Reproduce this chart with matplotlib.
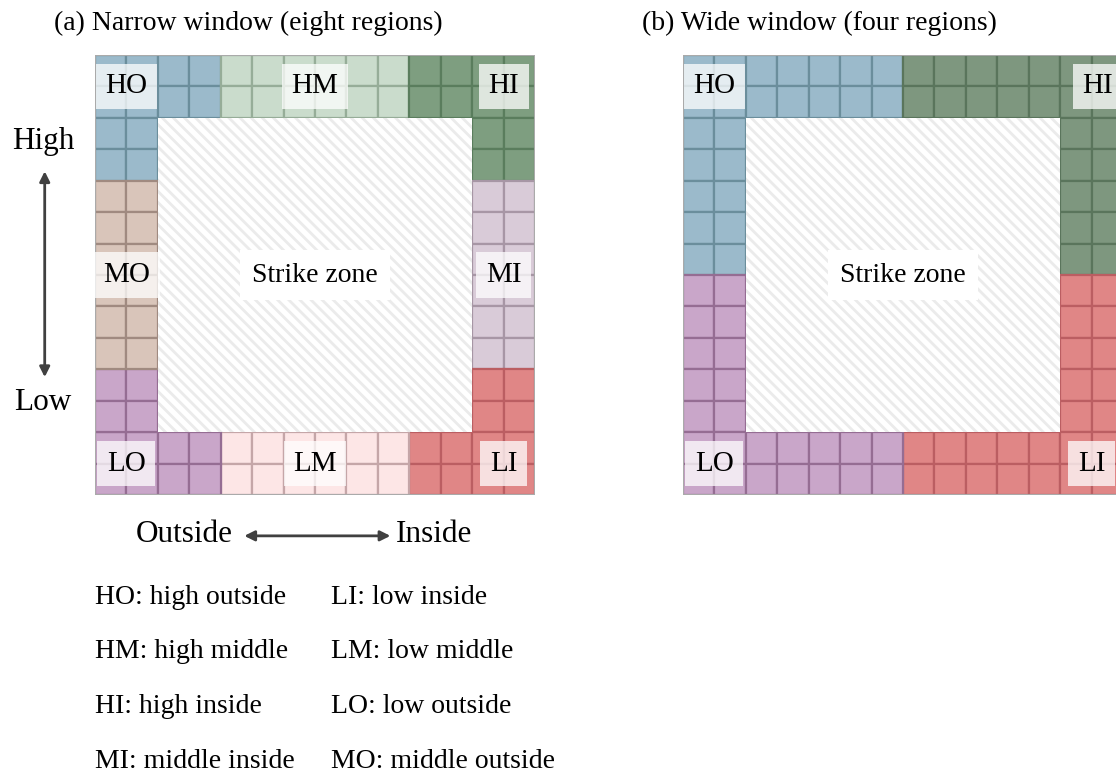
import matplotlib.pyplot as plt
from matplotlib.patches import Rectangle

plt.rcParams['font.family'] = ['Liberation Serif', 'DejaVu Serif']
plt.rcParams['hatch.linewidth'] = 2.0

# region -> blocks of cells (col0, row0, ncols, nrows) on a 14 x 14 grid
narrow_names = ['HO', 'HM', 'HI', 'MI', 'LI', 'LM', 'LO', 'MO']
narrow_fill = ['#9bbacb', '#cadccc', '#7e9e80', '#d9cbd8',
               '#e08686', '#fde6e6', '#c9a6c9', '#d9c5ba']
narrow_line = ['#6b8e9c', '#96ad98', '#5a7d5d', '#a796a5',
               '#bb5e62', '#c5a6a8', '#956d93', '#a08a80']
narrow_blocks = [
    [(0, 0, 4, 2), (0, 2, 2, 2)],
    [(4, 0, 6, 2)],
    [(10, 0, 4, 2), (12, 2, 2, 2)],
    [(12, 4, 2, 6)],
    [(12, 10, 2, 2), (10, 12, 4, 2)],
    [(4, 12, 6, 2)],
    [(0, 12, 4, 2), (0, 10, 2, 2)],
    [(0, 4, 2, 6)],
]
narrow_label_xy = [(1, 1), (7, 1), (13, 1), (13, 7), (13, 13), (7, 13), (1, 13), (1, 7)]

wide_names = ['HO', 'HI', 'LI', 'LO']
wide_fill = ['#9bbacb', '#7e977f', '#e08686', '#c9a6c9']
wide_line = ['#6b8e9c', '#5a755c', '#bb5e62', '#956d93']
wide_blocks = [
    [(0, 0, 7, 2), (0, 2, 2, 5)],
    [(7, 0, 7, 2), (12, 2, 2, 5)],
    [(12, 7, 2, 5), (7, 12, 7, 2)],
    [(0, 7, 2, 5), (0, 12, 7, 2)],
]
wide_label_xy = [(1, 1), (13.2, 1), (13, 13), (1, 13)]

legend_left = ['HO: high outside', 'HM: high middle', 'HI: high inside', 'MI: middle inside']
legend_right = ['LI: low inside', 'LM: low middle', 'LO: low outside', 'MO: middle outside']

W, H = 1116, 775
fig = plt.figure(figsize=(W / 100, H / 100), dpi=100)


def make_ax(left_px):
    ax = fig.add_axes([left_px / W, (H - 495) / H, 440 / W, 440 / H])
    ax.set_xlim(0, 14)
    ax.set_ylim(14, 0)
    ax.axis('off')
    return ax


def draw_panel(ax, names, fills, lines, blocks, label_xy, title):
    for fc, lc, blist in zip(fills, lines, blocks):
        for c0, r0, nc, nr in blist:
            for c in range(c0, c0 + nc):
                for r in range(r0, r0 + nr):
                    ax.add_patch(Rectangle((c, r), 1, 1, facecolor=fc,
                                           edgecolor=lc, lw=1.6, zorder=1))
    ax.add_patch(Rectangle((0, 0), 14, 14, fill=False, edgecolor='#aaaaaa',
                           lw=1.5, zorder=2))
    ax.add_patch(Rectangle((2, 2), 10, 10, facecolor='white', edgecolor='#ebebeb',
                           hatch='\\\\\\', lw=0, zorder=2))
    for name, (x, y) in zip(names, label_xy):
        ax.text(x, y, name, fontsize=21, ha='center', va='center', zorder=5,
                bbox=dict(boxstyle='square,pad=0.33', fc='white', ec='none', alpha=0.75))
    ax.text(7, 7, 'Strike zone', fontsize=20, ha='center', va='center', zorder=5,
            bbox=dict(boxstyle='square,pad=0.45', fc='white', ec='none'))
    ax.text(-1.3, -1.0, title, fontsize=20, ha='left', va='center')


ax1 = make_ax(95)
draw_panel(ax1, narrow_names, narrow_fill, narrow_line, narrow_blocks,
           narrow_label_xy, '(a) Narrow window (eight regions)')
ax2 = make_ax(683)
draw_panel(ax2, wide_names, wide_fill, wide_line, wide_blocks,
           wide_label_xy, '(b) Wide window (four regions)')

arrow = dict(arrowstyle='<|-|>', color='#404040', lw=2, mutation_scale=15,
             shrinkA=0, shrinkB=0)
ax1.text(-1.65, 2.75, 'High', fontsize=22.5, ha='center', va='center')
ax1.text(-1.65, 11.05, 'Low', fontsize=22.5, ha='center', va='center')
ax1.annotate('', xy=(-1.6, 3.7), xytext=(-1.6, 10.25), arrowprops=arrow,
             annotation_clip=False)
ax1.text(2.85, 15.25, 'Outside', fontsize=22.5, ha='center', va='center')
ax1.text(10.8, 15.25, 'Inside', fontsize=22.5, ha='center', va='center')
ax1.annotate('', xy=(4.75, 15.3), xytext=(9.4, 15.3), arrowprops=arrow,
             annotation_clip=False)

for i, (a, b) in enumerate(zip(legend_left, legend_right)):
    y = 17.25 + i * 1.74
    ax1.text(0, y, a, fontsize=20, ha='left', va='center')
    ax1.text(7.5, y, b, fontsize=20, ha='left', va='center')

fig.savefig('out.png', dpi=100)
